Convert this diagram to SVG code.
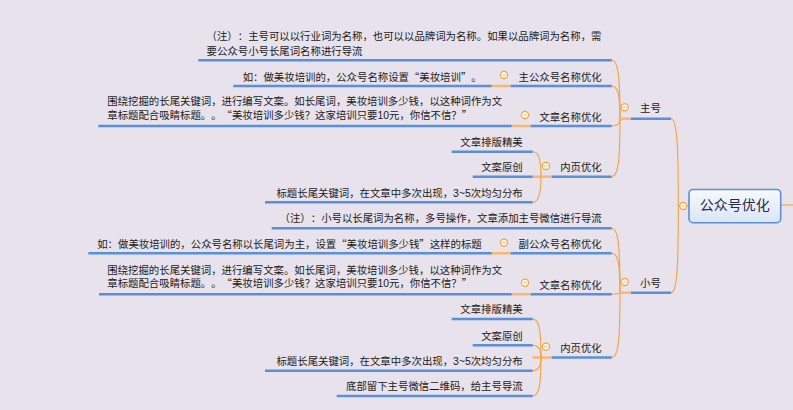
<svg xmlns="http://www.w3.org/2000/svg" xmlns:xlink="http://www.w3.org/1999/xlink" width="793" height="410" viewBox="0 0 793 410">
<defs>
<style>
.t{font-family:"Liberation Sans","Noto Sans CJK SC",sans-serif;font-size:10.4px;fill:#1a1a1a;text-spacing-trim:space-all}
.e{text-anchor:end}
.q{font-family:"Noto Sans CJK SC",sans-serif}
.ul{stroke:#5b8fd8;stroke-width:2.4;fill:none}
.oj{stroke:#f6b86c;stroke-width:2.4;fill:none}
.cv{stroke:#f4a23c;stroke-width:1.1;fill:none}
.root{font-family:"Liberation Sans","Noto Sans CJK SC",sans-serif;font-size:14px;fill:#1d2b4f;text-anchor:middle}
</style>
<linearGradient id="gRoot" x1="0" y1="0" x2="0" y2="1">
<stop offset="0" stop-color="#f7f9fe"/>
<stop offset="1" stop-color="#d9e5f5"/>
</linearGradient>
<g id="btn">
<circle cx="0" cy="0" r="3.6" fill="#fdf4ea" stroke="#f2a33c" stroke-width="1.1"/>
<line x1="-1.8" y1="0" x2="1.8" y2="0" stroke="#f2c38a" stroke-width="1"/>
</g>
</defs>
<rect width="793" height="410" fill="#e7e2ec"/>

<g id="connectors">
<path class="cv" d="M678.3,206 C678.3,150 677.5,118.7 671,118.7"/>
<path class="cv" d="M678.3,206 C678.3,262 677.5,292.7 671,292.7"/>
<path class="cv" d="M678.3,206 H689"/>
<path class="cv" d="M780.7,205 H793"/>
<path class="cv" d="M620,118.7 C620,75 618,60.3 611.7,60.3"/>
<path class="cv" d="M620,118.7 C620,95 618,86 611.7,86"/>
<path class="cv" d="M620,118.7 C620,123 618,126 611.7,126"/>
<path class="cv" d="M620,118.7 C620,162 618,176.7 611.7,176.7"/>
<path class="oj" d="M620,118.7 H631"/>
<path class="cv" d="M620,292.7 C620,243 618,228.3 611.7,228.3"/>
<path class="cv" d="M620,292.7 C620,263 618,253.3 611.7,253.3"/>
<path class="cv" d="M620,292.7 C620,293.5 618,294 611.7,294"/>
<path class="cv" d="M620,292.7 C620,343 618,357.5 611.7,357.5"/>
<path class="oj" d="M620,292.7 H631"/>
<path class="oj" d="M491.7,86 H510.7"/>
<path class="oj" d="M511.7,126 H530.7"/>
<path class="oj" d="M532.7,176.7 H551.7"/>
<path class="cv" d="M541,176.7 C541,160 539,151.7 532.7,151.7"/>
<path class="cv" d="M541,176.7 C541,193 539,202.3 532.7,202.3"/>
<path class="oj" d="M491.7,253.3 H510.7"/>
<path class="oj" d="M511.7,294.2 H530.7"/>
<path class="oj" d="M532.7,357.5 H551.7"/>
<path class="cv" d="M541,357.5 C541,330 539,319 532.7,319"/>
<path class="cv" d="M541,357.5 C541,350 539,345.3 532.7,345.3"/>
<path class="cv" d="M541,357.5 C541,365 539,370.7 532.7,370.7"/>
<path class="cv" d="M541,357.5 C541,385 539,396 532.7,396"/>
</g>

<g id="n-root">
<rect x="689" y="189.5" width="91.7" height="33.2" rx="4" fill="url(#gRoot)" stroke="#5b8fd6" stroke-width="1.6"/>
<text class="root" x="734.8" y="210.3">公众号优化</text>
<use xlink:href="#btn" x="683.3" y="206"/>
</g>

<g id="n-zhuhao">
<line class="ul" x1="631" y1="118.7" x2="671" y2="118.7"/>
<text class="t" x="640" y="112.3">主号</text>
<use xlink:href="#btn" x="624.7" y="107.3"/>
</g>

<g id="n-zhuhao-note">
<line class="ul" x1="198.3" y1="60.3" x2="611.7" y2="60.3"/>
<text class="t" x="206.6" y="40">（注）：主号可以以行业词为名称，也可以以品牌词为名称。如果以品牌词为名称，需</text>
<text class="t" x="206.6" y="55">要公众号小号长尾词名称进行导流</text>
</g>

<g id="n-zhu-name">
<line class="ul" x1="510.7" y1="86" x2="611.7" y2="86"/>
<text class="t e" x="601.7" y="80.7">主公众号名称优化</text>
<use xlink:href="#btn" x="504" y="75"/>
</g>

<g id="n-zhu-name-eg">
<line class="ul" x1="233.3" y1="86" x2="491.7" y2="86"/>
<text class="t e" x="481.7" y="80.5">如：做美妆培训的，公众号名称设置<tspan class="q">“</tspan>美妆培训<tspan class="q">”</tspan>。</text>
</g>

<g id="n-zhu-title">
<line class="ul" x1="530.7" y1="126" x2="611.7" y2="126"/>
<text class="t e" x="601.7" y="120.7">文章名称优化</text>
<use xlink:href="#btn" x="525" y="115"/>
</g>

<g id="n-zhu-title-eg">
<line class="ul" x1="98.3" y1="126" x2="511.7" y2="126"/>
<text class="t" x="107.3" y="105">围绕挖掘的长尾关键词，进行编写文案。如长尾词，美妆培训多少钱，以这种词作为文</text>
<text class="t" x="107.3" y="119.3">章标题配合吸睛标题。。<tspan class="q">“</tspan>美妆培训多少钱？这家培训只要10元，你信不信？<tspan class="q">”</tspan></text>
</g>

<g id="n-zhu-page">
<line class="ul" x1="551.7" y1="176.7" x2="611.7" y2="176.7"/>
<text class="t e" x="601.7" y="171.3">内页优化</text>
<use xlink:href="#btn" x="546" y="166"/>
</g>

<g id="n-zhu-page-1">
<line class="ul" x1="451.7" y1="151.7" x2="532.7" y2="151.7"/>
<text class="t e" x="522.7" y="145.7">文章排版精美</text>
</g>

<g id="n-zhu-page-2">
<line class="ul" x1="472.7" y1="176.7" x2="532.7" y2="176.7"/>
<text class="t e" x="522.7" y="171.3">文案原创</text>
</g>

<g id="n-zhu-page-3">
<line class="ul" x1="265" y1="202.3" x2="532.7" y2="202.3"/>
<text class="t e" x="522.7" y="196.9">标题长尾关键词，在文章中多次出现，3~5次均匀分布</text>
</g>

<g id="n-xiaohao">
<line class="ul" x1="631" y1="292.7" x2="671" y2="292.7"/>
<text class="t" x="640" y="287.3">小号</text>
<use xlink:href="#btn" x="624.7" y="282"/>
</g>

<g id="n-xiaohao-note">
<line class="ul" x1="271.7" y1="228.3" x2="611.7" y2="228.3"/>
<text class="t e" x="601.7" y="222.3">（注）：小号以长尾词为名称，多号操作，文章添加主号微信进行导流</text>
</g>

<g id="n-xiao-name">
<line class="ul" x1="510.7" y1="253.3" x2="611.7" y2="253.3"/>
<text class="t e" x="601.7" y="248">副公众号名称优化</text>
<use xlink:href="#btn" x="504" y="242.7"/>
</g>

<g id="n-xiao-name-eg">
<line class="ul" x1="88.3" y1="253.3" x2="491.7" y2="253.3"/>
<text class="t e" x="481.7" y="248.3">如：做美妆培训的，公众号名称以长尾词为主，设置<tspan class="q">“</tspan>美妆培训多少钱<tspan class="q">”</tspan>这样的标题</text>
</g>

<g id="n-xiao-title">
<line class="ul" x1="530.7" y1="294.2" x2="611.7" y2="294.2"/>
<text class="t e" x="601.7" y="289">文章名称优化</text>
<use xlink:href="#btn" x="525" y="282.7"/>
</g>

<g id="n-xiao-title-eg">
<line class="ul" x1="99" y1="294.2" x2="511.7" y2="294.2"/>
<text class="t" x="107.3" y="274">围绕挖掘的长尾关键词，进行编写文案。如长尾词，美妆培训多少钱，以这种词作为文</text>
<text class="t" x="107.3" y="287.3">章标题配合吸睛标题。。<tspan class="q">“</tspan>美妆培训多少钱？这家培训只要10元，你信不信？<tspan class="q">”</tspan></text>
</g>

<g id="n-xiao-page">
<line class="ul" x1="551.7" y1="357.5" x2="611.7" y2="357.5"/>
<text class="t e" x="601.7" y="352.3">内页优化</text>
<use xlink:href="#btn" x="546" y="346.7"/>
</g>

<g id="n-xiao-page-1">
<line class="ul" x1="451.7" y1="319" x2="532.7" y2="319"/>
<text class="t e" x="522.7" y="313.3">文章排版精美</text>
</g>

<g id="n-xiao-page-2">
<line class="ul" x1="472.7" y1="345.3" x2="532.7" y2="345.3"/>
<text class="t e" x="522.7" y="340">文案原创</text>
</g>

<g id="n-xiao-page-3">
<line class="ul" x1="265" y1="370.7" x2="532.7" y2="370.7"/>
<text class="t e" x="522.7" y="364.7">标题长尾关键词，在文章中多次出现，3~5次均匀分布</text>
</g>

<g id="n-xiao-page-4">
<line class="ul" x1="336.7" y1="396" x2="532.7" y2="396"/>
<text class="t e" x="522.7" y="390">底部留下主号微信二维码，给主号导流</text>
</g>
</svg>
